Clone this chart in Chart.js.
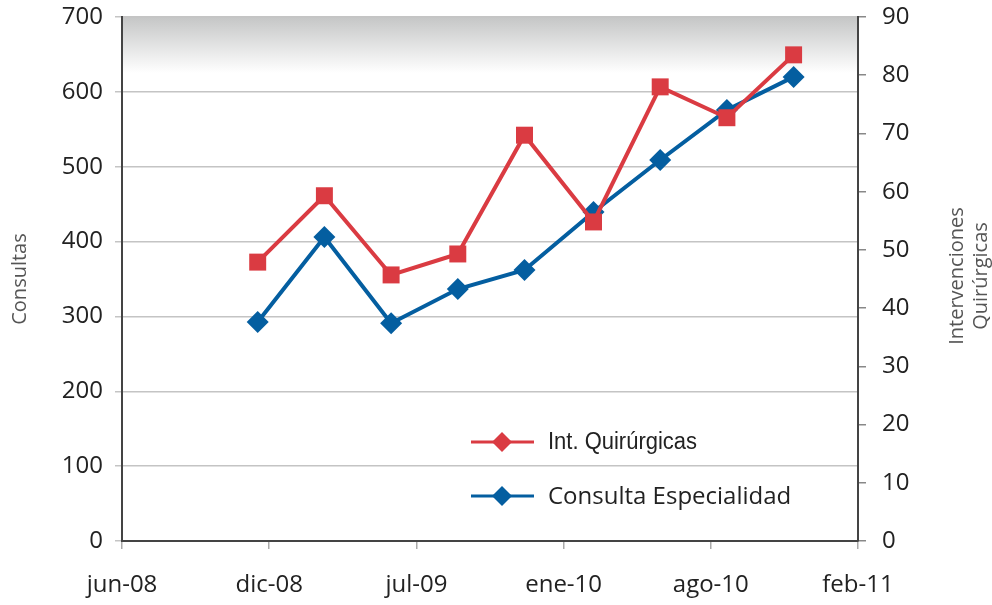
<!DOCTYPE html>
<html>
<head>
<meta charset="utf-8">
<script src="https://cdn.jsdelivr.net/npm/chart.js@4"></script>
<style>
html, body { margin: 0; padding: 0; background: #fff; }
#wrap { width: 992px; height: 605px; }
</style>
</head>
<body>
<div id="wrap"><canvas id="chart"></canvas></div>
<script>
// months counted from jun-08
const months = [5.9, 8.8, 11.7, 14.6, 17.5, 20.5, 23.4, 26.3, 29.2];
const consultas = [292.6, 406, 291, 336.6, 362, 439.5, 509, 575.8, 620];
const intervenciones = [47.9, 59.3, 45.7, 49.3, 69.7, 54.8, 78.0, 72.7, 83.5];
const tick_months = [0, 6.4, 12.8, 19.2, 25.6, 32];
const tick_labels = ['jun-08', 'dic-08', 'jul-09', 'ene-10', 'ago-10', 'feb-11'];

const red = 'rgb(218, 59, 66)';
const blue = 'rgb(4, 94, 160)';

function to_points(xs, ys) {
    return xs.map((x, i) => ({ x: x, y: ys[i] }));
}

const top_shade = {
    id: 'top_shade',
    beforeDraw(chart) {
        const { ctx, chartArea } = chart;
        const g = ctx.createLinearGradient(0, chartArea.top, 0, chartArea.top + 56);
        g.addColorStop(0, '#c5c6c6');
        g.addColorStop(1, '#ffffff');
        ctx.save();
        ctx.fillStyle = g;
        ctx.fillRect(chartArea.left, chartArea.top, chartArea.right - chartArea.left, 56);
        ctx.restore();
    }
};

const side_title = {
    id: 'side_title',
    afterDraw(chart) {
        const ctx = chart.ctx;
        ctx.save();
        ctx.translate(969, 276);
        ctx.rotate(-Math.PI / 2);
        ctx.fillStyle = '#555';
        ctx.font = '20px "Open Sans"';
        ctx.textAlign = 'center';
        ctx.textBaseline = 'middle';
        ctx.fillText('Intervenciones', 0, -12);
        ctx.fillText('Quirúrgicas', 0, 12);
        ctx.restore();
    }
};

// legend sits inside the plot area, fonts differ per entry
const inner_legend = {
    id: 'inner_legend',
    afterDatasetsDraw(chart) {
        const ctx = chart.ctx;
        const rows = [
            { y: 442, font: '23px "Liberation Sans"', width: 149 },
            { y: 496, font: '24px "Open Sans"', width: 0 }
        ];
        chart.data.datasets.forEach((ds, i) => {
            const y = rows[i].y;
            ctx.save();
            ctx.strokeStyle = ds.borderColor;
            ctx.lineWidth = 3;
            ctx.beginPath();
            ctx.moveTo(471, y);
            ctx.lineTo(534, y);
            ctx.stroke();
            ctx.fillStyle = ds.borderColor;
            ctx.beginPath();
            ctx.moveTo(502, y - 10);
            ctx.lineTo(512, y);
            ctx.lineTo(502, y + 10);
            ctx.lineTo(492, y);
            ctx.closePath();
            ctx.fill();
            ctx.fillStyle = '#222';
            ctx.font = rows[i].font;
            ctx.textAlign = 'left';
            ctx.textBaseline = 'middle';
            ctx.translate(548, y + 1);
            if (rows[i].width) {
                // narrow face in the original
                const w = ctx.measureText(ds.label).width;
                ctx.scale(rows[i].width / w, 1);
            }
            ctx.fillText(ds.label, 0, 0);
            ctx.restore();
        });
    }
};

function fix_vertical(width) {
    return (scale) => {
        scale.width = width;
        scale.paddingTop = 0;
        scale.paddingBottom = 0;
    };
}

new Chart(document.getElementById('chart'), {
    type: 'line',
    data: {
        datasets: [
            {
                label: 'Int. Quirúrgicas',
                data: to_points(months, intervenciones),
                yAxisID: 'y2',
                borderColor: red,
                backgroundColor: red,
                borderWidth: 4,
                pointStyle: 'rect',
                pointRadius: 12,
                pointHoverRadius: 12,
                pointBorderWidth: 0
            },
            {
                label: 'Consulta Especialidad',
                data: to_points(months, consultas),
                yAxisID: 'y',
                borderColor: blue,
                backgroundColor: blue,
                borderWidth: 4,
                pointStyle: 'rectRot',
                pointRadius: 11,
                pointHoverRadius: 11,
                pointBorderWidth: 0
            }
        ]
    },
    options: {
        responsive: true,
        maintainAspectRatio: false,
        animation: false,
        layout: { padding: { top: 17, left: 0, right: 0, bottom: 0 } },
        plugins: {
            legend: { display: false },
            tooltip: { enabled: false }
        },
        scales: {
            x: {
                type: 'linear',
                min: 0,
                max: 32,
                afterBuildTicks: (scale) => {
                    scale.ticks = tick_months.map(v => ({ value: v }));
                },
                afterFit: (scale) => {
                    scale.height = 64;
                    scale.paddingLeft = 0;
                    scale.paddingRight = 0;
                },
                ticks: {
                    callback: (value, index) => tick_labels[index],
                    font: { family: 'Open Sans', size: 24 },
                    color: '#222',
                    padding: 22,
                    maxRotation: 0
                },
                grid: {
                    drawOnChartArea: false,
                    tickLength: 8,
                    color: '#aaa',
                    lineWidth: 1.5
                },
                border: { color: '#444', width: 2 }
            },
            y: {
                position: 'left',
                min: 0,
                max: 700,
                afterFit: fix_vertical(122),
                ticks: {
                    stepSize: 100,
                    font: { family: 'Open Sans', size: 24 },
                    color: '#222',
                    padding: 12
                },
                grid: {
                    color: '#c4c4c4',
                    lineWidth: 1.5,
                    tickLength: 7
                },
                border: { color: '#444', width: 2 },
                title: {
                    display: true,
                    text: 'Consultas',
                    font: { family: 'Open Sans', size: 20 },
                    color: '#555',
                    padding: { top: 8, bottom: 0 }
                }
            },
            y2: {
                position: 'right',
                min: 0,
                max: 90,
                afterFit: fix_vertical(134),
                ticks: {
                    stepSize: 10,
                    font: { family: 'Open Sans', size: 24 },
                    color: '#222',
                    padding: 16
                },
                grid: {
                    drawOnChartArea: false,
                    color: '#888',
                    lineWidth: 1.5,
                    tickLength: 8
                },
                border: { color: '#444', width: 2 }
            }
        }
    },
    plugins: [top_shade, side_title, inner_legend]
});
</script>
</body>
</html>
